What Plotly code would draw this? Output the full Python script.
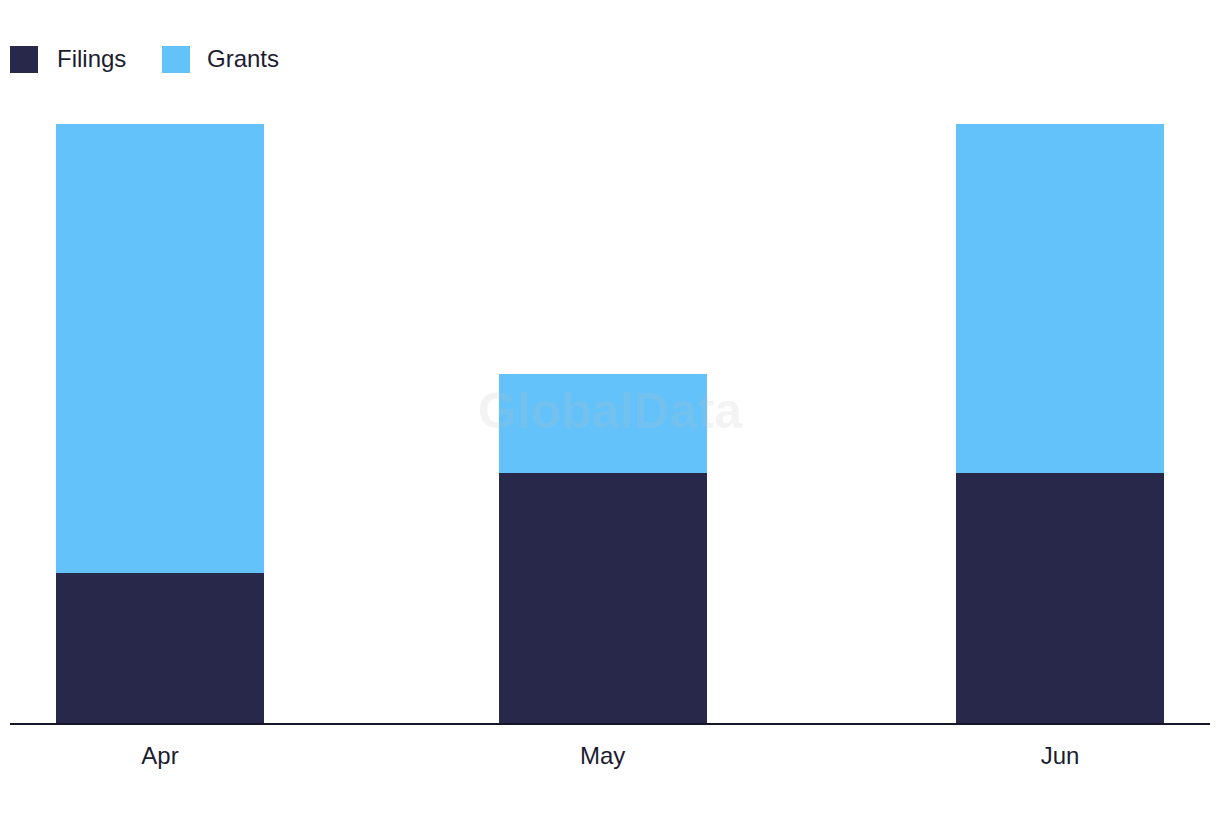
import plotly.graph_objects as go

months = ["2024-04-01", "2024-05-01", "2024-06-01"]
month_labels = ["Apr", "May", "Jun"]
filings = [3, 5, 5]
grants = [9, 2, 7]

DARK = "#28284a"
LIGHT = "#62c2f9"
TEXT = "#1c1c30"
FONT = "Liberation Sans, Arial, sans-serif"

W, H = 1220, 822
L, R, T, B = 10, 10, 124, 99
pw, ph = W - L - R, H - T - B

def px(x):
    return (x - L) / pw

def py(y):
    return (H - B - y) / ph

bar_w = 14.1 * 86400000

fig = go.Figure()
fig.add_trace(go.Bar(x=months, y=filings, name="Filings", marker_color=DARK,
                     width=bar_w, showlegend=False, marker_line_width=0))
fig.add_trace(go.Bar(x=months, y=grants, name="Grants", marker_color=LIGHT,
                     width=bar_w, showlegend=False, marker_line_width=0))

shapes = []
annotations = []
for x0, col, label, tx in [(10, DARK, "Filings", 55), (162, LIGHT, "Grants", 205)]:
    shapes.append(dict(type="rect", xref="paper", yref="paper",
                       x0=px(x0), x1=px(x0 + 28), y0=py(46), y1=py(73),
                       fillcolor=col, line_width=0, layer="above"))
    annotations.append(dict(text=label, xref="paper", yref="paper",
                            x=px(tx), y=py(58), xanchor="left", yanchor="middle",
                            showarrow=False, font=dict(family=FONT, size=24, color=TEXT)))

annotations.append(dict(text="<b>GlobalData</b>", xref="paper", yref="paper",
                        x=0.5, y=py(411), xanchor="center", yanchor="middle",
                        showarrow=False,
                        font=dict(family=FONT, size=50, color="rgba(190,190,190,0.18)")))

fig.update_layout(
    barmode="stack",
    width=W, height=H,
    margin=dict(l=L, r=R, t=T, b=B),
    paper_bgcolor="white", plot_bgcolor="white",
    showlegend=False,
    shapes=shapes,
    annotations=annotations,
    xaxis=dict(type="date", range=["2024-03-21 20:00", "2024-06-11 04:00"],
               tickvals=months, ticktext=month_labels,
               showgrid=False, zeroline=False,
               showline=True, linecolor="#16162a", linewidth=2,
               ticks="", ticklabelstandoff=10,
               tickfont=dict(family=FONT, size=24, color=TEXT)),
    yaxis=dict(range=[0, 12], showgrid=False, zeroline=False,
               showticklabels=False, showline=False, ticks=""),
)

fig.write_html("out.html")
